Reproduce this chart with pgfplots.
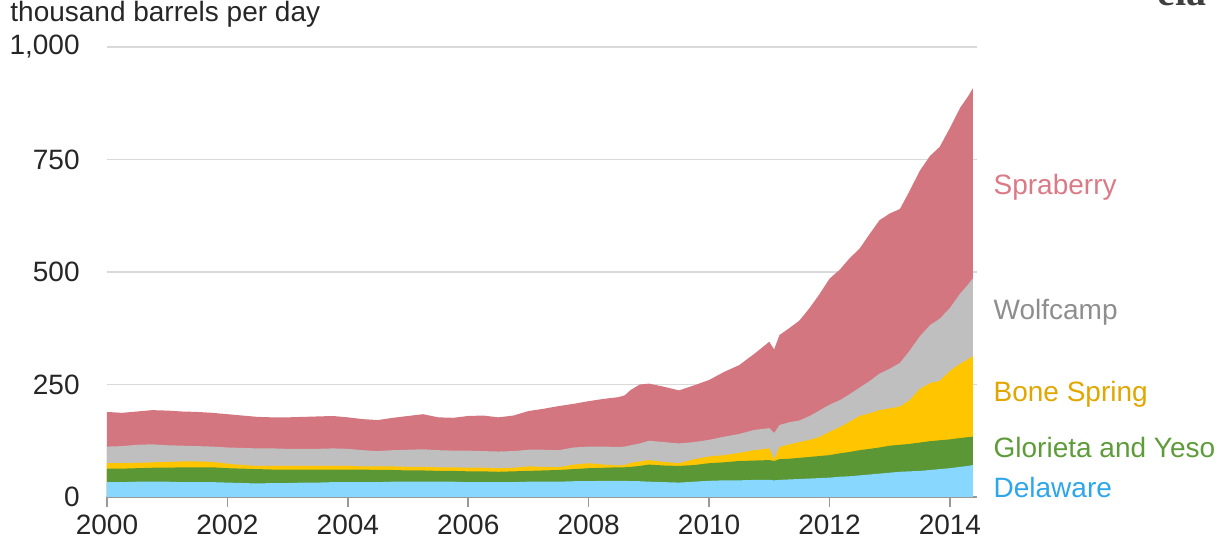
\documentclass[border=0pt]{standalone}
\usepackage{fontspec}
\setmainfont{Liberation Sans}
\newfontfamily\eiafont{Liberation Serif}
\usepackage{pgfplots}
\usepackage{pgfplotstable}
\pgfplotsset{compat=1.18}
\definecolor{cPink}{HTML}{D47680}
\definecolor{cGray}{HTML}{BFBFBF}
\definecolor{cYellow}{HTML}{FFC600}
\definecolor{cGreen}{HTML}{5B9735}
\definecolor{cBlue}{HTML}{87D7FE}
\definecolor{tPink}{HTML}{DB7A86}
\definecolor{tGray}{HTML}{8E8E8E}
\definecolor{tYellow}{HTML}{E2A600}
\definecolor{tGreen}{HTML}{5E9C3A}
\definecolor{tBlue}{HTML}{2EA6EC}
% cumulative tops of the stacked layers
\pgfplotstableread{
year blue green yellow gray total
2000.00 33 63 75 112 189
2000.25 33 63 75 113 187
2000.50 34 64 76 116 190
2000.75 34 65 77 117 193
2001.00 34 65 78 115 192
2001.25 33 66 79 114 190
2001.50 33 66 79 113 189
2001.75 33 66 78 112 187
2002.00 32 64 74 110 184
2002.25 31 63 71 109 181
2002.50 30 62 69 108 178
2002.75 31 61 69 108 177
2003.00 31 61 69 107 177
2003.25 32 61 69 107 178
2003.50 32 61 69 107 179
2003.75 33 61 69 108 180
2004.00 33 61 69 107 177
2004.25 33 61 68 104 173
2004.50 33 60 68 102 171
2004.75 34 60 68 104 176
2005.00 34 59 67 105 180
2005.25 34 59 67 106 184
2005.50 34 58 66 104 177
2005.75 34 58 66 103 176
2006.00 33 57 65 103 180
2006.25 33 57 65 102 181
2006.50 33 56 64 101 177
2006.75 33 57 65 102 181
2007.00 34 58 68 105 191
2007.25 34 59 67 105 196
2007.50 34 60 66 104 202
2007.75 35 62 72 110 207
2008.00 35 64 75 112 213
2008.25 36 65 72 112 218
2008.50 36 66 70 111 222
2008.60 36 66 71 112 226
2008.70 35 67 76 115 238
2008.85 35 69 79 119 250
2009.00 34 72 82 125 252
2009.25 33 70 78 122 245
2009.50 32 69 75 119 237
2009.75 34 71 84 122 248
2010.00 36 75 90 127 260
2010.25 37 77 93 134 278
2010.50 37 80 98 140 293
2010.75 38 81 104 149 318
2011.00 38 82 108 153 345
2011.08 37 80 84 142 328
2011.17 38 84 111 160 360
2011.33 39 85 117 166 375
2011.50 40 87 122 170 392
2011.67 41 89 127 180 420
2011.83 42 91 133 192 450
2012.00 43 93 145 205 485
2012.17 45 97 155 215 505
2012.33 46 100 167 228 530
2012.50 48 104 180 243 552
2012.67 50 107 186 258 585
2012.83 52 110 193 274 615
2013.00 54 114 197 285 630
2013.17 56 116 201 298 640
2013.33 57 118 215 325 680
2013.50 58 121 240 357 725
2013.67 60 124 253 382 758
2013.83 62 126 258 396 778
2014.00 64 128 280 420 820
2014.17 67 131 296 452 865
2014.30 69 133 306 472 890
2014.38 71 134 313 486 908
}\datatable
\begin{document}
\begin{tikzpicture}[font=\fontsize{14}{16.5}\selectfont]
\useasboundingbox (-53.5pt,-24pt) rectangle (557pt,248.5pt);
\begin{axis}[
  at={(0pt,0pt)}, anchor=south west,
  scale only axis, width=435pt, height=225pt,
  xmin=2000, xmax=2014.45, ymin=0, ymax=1000,
  xtick={2000,2002,...,2014},
  ytick={0,250,500,750,1000},
  axis x line*=bottom, axis y line*=left,
  y axis line style={draw=none},
  x axis line style={draw=gray!80, line width=0.8pt},
  ytick style={draw=none},
  xtick style={draw=gray!80, line width=0.8pt},
  tick align=outside, major tick length=5pt,
  ymajorgrids, grid style={draw=gray!30, line width=0.7pt},
  tick label style={font=\fontsize{14}{16.5}\selectfont, text=black!85},
  /pgf/number format/assume math mode=true,
  x tick label style={/pgf/number format/1000 sep={}, anchor=north, inner sep=0pt, yshift=-4pt},
  y tick label style={/pgf/number format/1000 sep={,}, anchor=east, inner sep=0pt, xshift=-8.5pt},
  clip=false,
]
\addplot[fill=cPink, draw=none] table[x=year, y=total] {\datatable} \closedcycle;
\addplot[fill=cGray, draw=none] table[x=year, y=gray] {\datatable} \closedcycle;
\addplot[fill=cYellow, draw=none] table[x=year, y=yellow] {\datatable} \closedcycle;
\addplot[fill=cGreen, draw=none] table[x=year, y=green] {\datatable} \closedcycle;
\addplot[fill=cBlue, draw=none] table[x=year, y=blue] {\datatable} \closedcycle;
\node[anchor=west, text=tPink, inner sep=0pt] at (axis cs:2014.72,689) {Spraberry};
\node[anchor=west, text=tGray, inner sep=0pt] at (axis cs:2014.72,411) {Wolfcamp};
\node[anchor=west, text=tYellow, inner sep=0pt] at (axis cs:2014.72,229) {Bone Spring};
\node[anchor=west, text=tGreen, inner sep=0pt] at (axis cs:2014.72,109) {Glorieta and Yeso};
\node[anchor=west, text=tBlue, inner sep=0pt] at (axis cs:2014.72,22) {Delaware};
\end{axis}
\node[anchor=base west, inner sep=0pt, text=black!85] at (-48.5pt,237.5pt) {thousand barrels per day};
\node[anchor=base west, inner sep=0pt, text=black!75, font=\eiafont\fontsize{20}{22}\selectfont\bfseries] at (525pt,245.5pt) {eia};
\end{tikzpicture}
\end{document}
